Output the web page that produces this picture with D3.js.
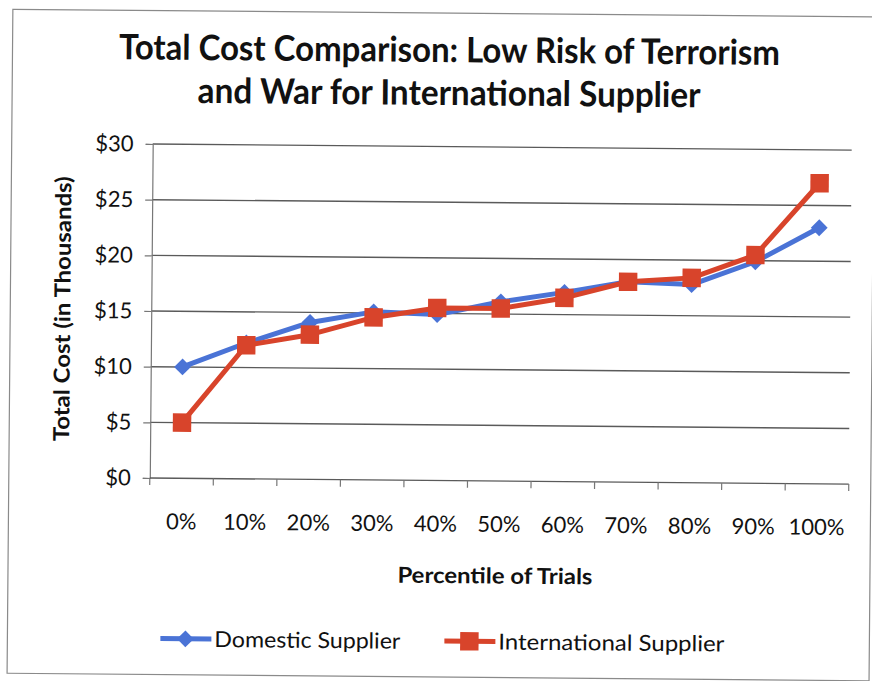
<!DOCTYPE html>
<html>
<head>
<meta charset="utf-8">
<script src="https://cdn.jsdelivr.net/npm/d3@7"></script>
<style>
  html, body { margin: 0; padding: 0; background: #fff; }
  svg { display: block; }
  text { font-family: Lato, "Open Sans", sans-serif; fill: #111; }
</style>
</head>
<body>
<svg id="chart" width="872" height="681"></svg>
<script>
// Percentile buckets along the x axis
const percentiles = ["0%", "10%", "20%", "30%", "40%", "50%", "60%", "70%", "80%", "90%", "100%"];
// Total cost in thousands of dollars
const domesticCost = [10, 12.2, 14.1, 15.1, 14.9, 16.1, 17.0, 18.0, 17.8, 19.9, 23.0];
const internationalCost = [5, 12, 13.0, 14.6, 15.5, 15.5, 16.5, 18.0, 18.4, 20.5, 27.0];
const yTicks = [0, 5, 10, 15, 20, 25, 30];
const seriesNames = ["Domestic Supplier", "International Supplier"];

const blue = "#4a73d6";
const red = "#d8442b";
const gridColor = "#5a5a5a";
const labelSize = 22;

const svg = d3.select("#chart");
// whole sheet sits at a slight tilt
const root = svg.append("g").attr("transform", "rotate(0.5, 436, 340)");

// outer frame
root.append("rect")
  .attr("x", 10).attr("y", 13).attr("width", 862).attr("height", 664)
  .attr("fill", "none").attr("stroke", "#8a8a8a").attr("stroke-width", 1.2);

const plot = { left: 151, top: 146.5, right: 850, bottom: 480.5 };

const x = d3.scaleBand().domain(percentiles).range([plot.left, plot.right]);
const y = d3.scaleLinear().domain([0, 30]).range([plot.bottom, plot.top]);

// horizontal gridlines
root.append("g").selectAll("line").data(yTicks.filter(d => d > 0)).join("line")
  .attr("x1", plot.left).attr("x2", plot.right)
  .attr("y1", d => y(d)).attr("y2", d => y(d))
  .attr("stroke", gridColor).attr("stroke-width", 1.4);

// y axis
const yAxis = root.append("g")
  .attr("transform", `translate(${plot.left},0)`)
  .call(d3.axisLeft(y).tickValues(yTicks).tickSize(7).tickPadding(12).tickFormat(d => "$" + d));
yAxis.select(".domain").attr("stroke", "#777").attr("stroke-width", 1.2);
yAxis.selectAll(".tick line").attr("stroke", "#777").attr("stroke-width", 1.2);
yAxis.selectAll(".tick text").attr("font-size", labelSize).attr("fill", "#111")
  .style("font-family", "Lato, 'Open Sans', sans-serif");

// x axis with ticks between categories
const xAxis = root.append("g").attr("transform", `translate(0,${plot.bottom})`);
xAxis.append("line")
  .attr("x1", plot.left).attr("x2", plot.right)
  .attr("stroke", gridColor).attr("stroke-width", 1.4);
const boundaries = percentiles.map(p => x(p)).concat([plot.right]);
xAxis.selectAll("line.tk").data(boundaries).join("line").attr("class", "tk")
  .attr("x1", d => d).attr("x2", d => d).attr("y1", 0).attr("y2", 7)
  .attr("stroke", "#777").attr("stroke-width", 1.2);
xAxis.selectAll("text").data(percentiles).join("text")
  .attr("x", d => x(d) + x.bandwidth() / 2).attr("y", 51)
  .attr("text-anchor", "middle").attr("font-size", labelSize)
  .text(d => d);

// axis titles
root.append("text")
  .attr("x", 497).attr("y", 583).attr("text-anchor", "middle")
  .attr("font-size", 22).attr("font-weight", "bold")
  .attr("textLength", 195).attr("lengthAdjust", "spacingAndGlyphs")
  .text("Percentile of Trials");
root.append("text")
  .attr("transform", "translate(70,312) rotate(-90)")
  .attr("text-anchor", "middle")
  .attr("font-size", 22).attr("font-weight", "bold")
  .attr("textLength", 265).attr("lengthAdjust", "spacingAndGlyphs")
  .text("Total Cost (in Thousands)");

// chart title
root.append("text")
  .attr("x", 447).attr("y", 62).attr("text-anchor", "middle")
  .attr("font-size", 35).attr("font-weight", "bold")
  .attr("textLength", 661).attr("lengthAdjust", "spacingAndGlyphs")
  .text("Total Cost Comparison: Low Risk of Terrorism");
root.append("text")
  .attr("x", 447).attr("y", 105).attr("text-anchor", "middle")
  .attr("font-size", 35).attr("font-weight", "bold")
  .attr("textLength", 503).attr("lengthAdjust", "spacingAndGlyphs")
  .text("and War for International Supplier");

const cx = p => x(p) + x.bandwidth() / 2;
const line = d3.line().x(d => cx(d.p)).y(d => y(d.v));

const domesticPts = percentiles.map((p, i) => ({ p, v: domesticCost[i] }));
const intlPts = percentiles.map((p, i) => ({ p, v: internationalCost[i] }));

const diamond = d3.symbol().type(d3.symbolDiamond2).size(180);
const square = d3.symbol().type(d3.symbolSquare).size(340);

// domestic series
root.append("path").datum(domesticPts)
  .attr("d", line).attr("fill", "none").attr("stroke", blue)
  .attr("stroke-width", 5).attr("stroke-linejoin", "round");
root.append("g").selectAll("path").data(domesticPts).join("path")
  .attr("d", diamond)
  .attr("transform", d => `translate(${cx(d.p)},${y(d.v)})`)
  .attr("fill", blue);

// international series
root.append("path").datum(intlPts)
  .attr("d", line).attr("fill", "none").attr("stroke", red)
  .attr("stroke-width", 5).attr("stroke-linejoin", "round");
root.append("g").selectAll("path").data(intlPts).join("path")
  .attr("d", square)
  .attr("transform", d => `translate(${cx(d.p)},${y(d.v)})`)
  .attr("fill", red);

// legend
const legend = root.append("g").attr("transform", "translate(0,641)");
const items = [
  { name: seriesNames[0], color: blue, sym: diamond, x0: 163, w: 186 },
  { name: seriesNames[1], color: red, sym: square, x0: 447, w: 226 }
];
items.forEach(it => {
  legend.append("line").attr("x1", it.x0).attr("x2", it.x0 + 51)
    .attr("stroke", it.color).attr("stroke-width", 5);
  legend.append("path").attr("d", it.sym)
    .attr("transform", `translate(${it.x0 + 25},0)`).attr("fill", it.color);
  legend.append("text").attr("x", it.x0 + 54).attr("y", 8)
    .attr("font-size", labelSize)
    .attr("textLength", it.w).attr("lengthAdjust", "spacingAndGlyphs")
    .text(it.name);
});
</script>
</body>
</html>
